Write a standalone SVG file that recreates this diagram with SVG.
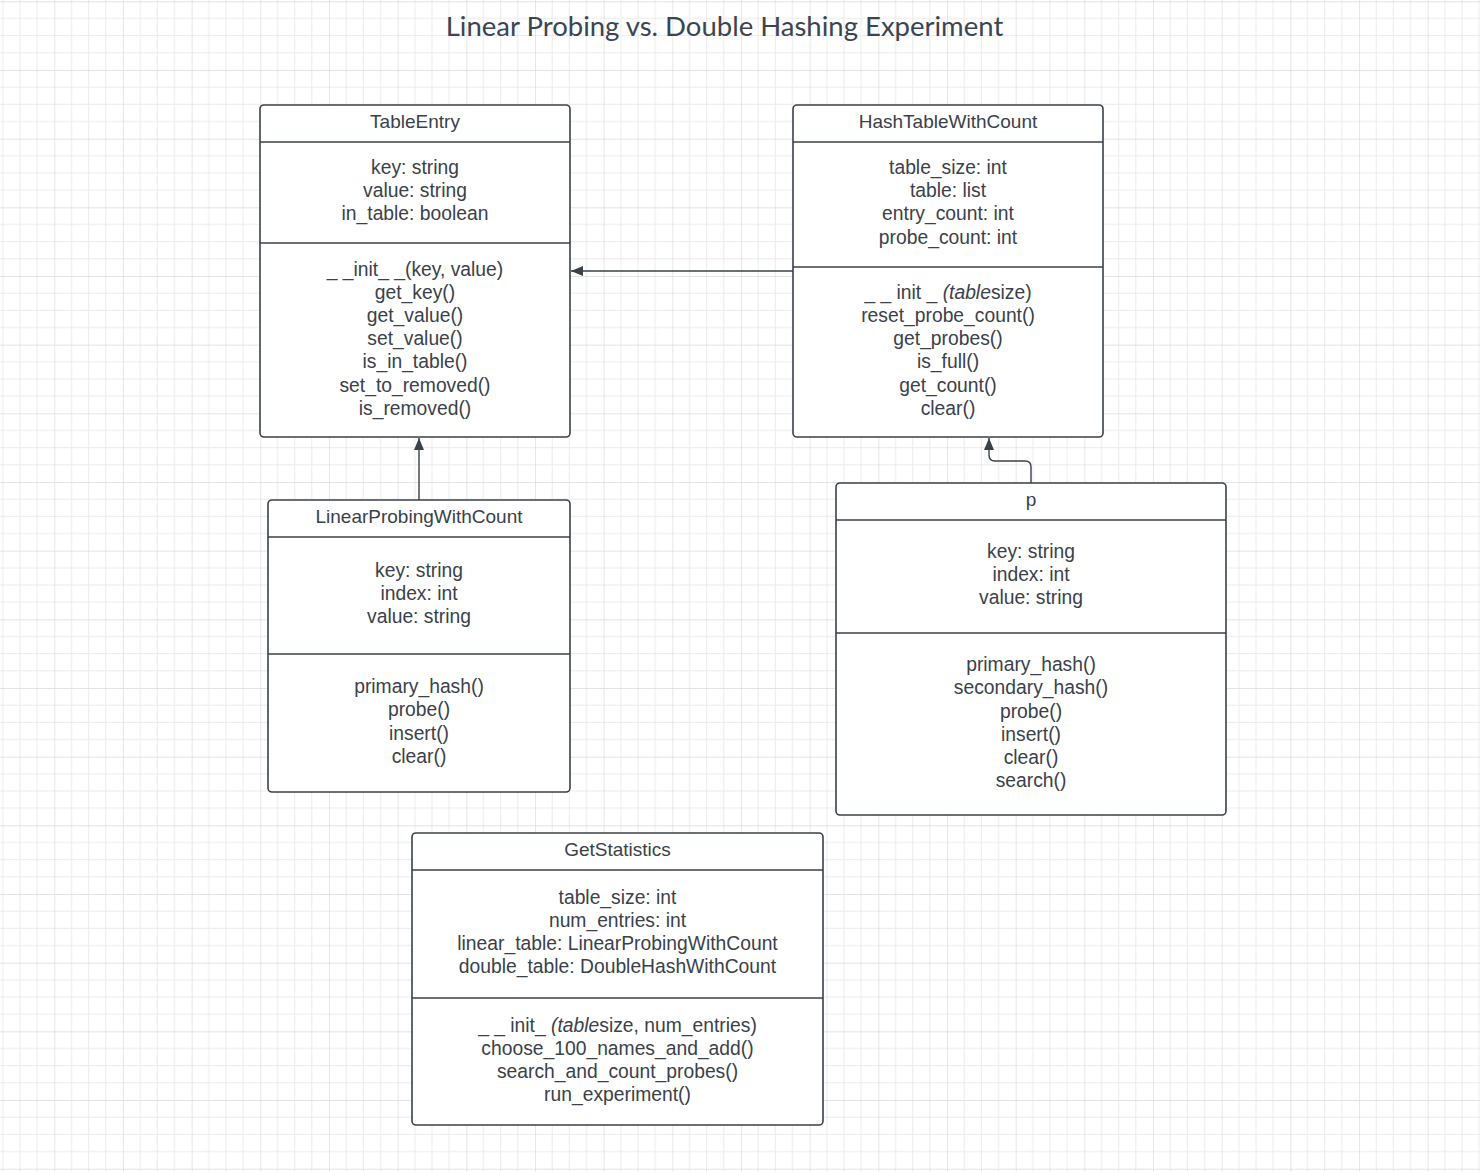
<svg xmlns="http://www.w3.org/2000/svg" width="1480" height="1172" viewBox="0 0 1480 1172">
<defs>
<pattern id="grid" patternUnits="userSpaceOnUse" x="-14.37" y="1.3" width="68.67" height="68.67">
<path d="M17.17 0V68.67M34.33 0V68.67M51.5 0V68.67M0 17.17H68.67M0 34.33H68.67M0 51.5H68.67" stroke="#ebebeb" stroke-width="1" fill="none"/>
<path d="M0 0V68.67M0 0H68.67" stroke="#dadada" stroke-width="1.3" fill="none"/>
</pattern>
<marker id="arr" viewBox="0 0 12 10" refX="12" refY="5" markerWidth="12" markerHeight="10" markerUnits="userSpaceOnUse" orient="auto">
<path d="M0 0L12 5L0 10Z" fill="#3a414a"/>
</marker>
</defs>
<style>
.box{fill:#ffffff;stroke:#3a414a;stroke-width:1.6}
.div{stroke:#3a414a;stroke-width:1.6}
.hd{font-family:"Liberation Sans",Arial,sans-serif;font-size:19px;fill:#3a414a;text-anchor:middle}
.m{font-family:"Liberation Sans",Arial,sans-serif;font-size:19.3px;fill:#3a414a;text-anchor:middle}
.con{fill:none;stroke:#3a414a;stroke-width:1.4}
.title{font-family:Lato,"Open Sans",sans-serif;font-size:27.5px;fill:#3b4552;text-anchor:middle}
</style>
<rect width="1480" height="1172" fill="#ffffff"/>
<rect width="1480" height="1172" fill="url(#grid)"/>
<text class="title" x="724.5" y="36">Linear Probing vs. Double Hashing Experiment</text>

<g id="TableEntry">
<rect class="box" x="260" y="105" width="310" height="332" rx="4"/>
<line class="div" x1="260" y1="142" x2="570" y2="142"/>
<line class="div" x1="260" y1="243" x2="570" y2="243"/>
<text class="hd" x="415" y="128">TableEntry</text>
<text class="m" x="415" y="174">key: string</text>
<text class="m" x="415" y="197">value: string</text>
<text class="m" x="415" y="220">in_table: boolean</text>
<text class="m" x="415" y="276">_ _init_ _(key, value)</text>
<text class="m" x="415" y="299">get_key()</text>
<text class="m" x="415" y="322">get_value()</text>
<text class="m" x="415" y="345">set_value()</text>
<text class="m" x="415" y="368">is_in_table()</text>
<text class="m" x="415" y="392">set_to_removed()</text>
<text class="m" x="415" y="415">is_removed()</text>
</g>

<g id="HashTableWithCount">
<rect class="box" x="793" y="105" width="310" height="332" rx="4"/>
<line class="div" x1="793" y1="142" x2="1103" y2="142"/>
<line class="div" x1="793" y1="267" x2="1103" y2="267"/>
<text class="hd" x="948" y="128">HashTableWithCount</text>
<text class="m" x="948" y="174">table_size: int</text>
<text class="m" x="948" y="197">table: list</text>
<text class="m" x="948" y="220">entry_count: int</text>
<text class="m" x="948" y="244">probe_count: int</text>
<text class="m" x="948" y="299">_ _ init _ <tspan font-style="italic">(table</tspan>size)</text>
<text class="m" x="948" y="322">reset_probe_count()</text>
<text class="m" x="948" y="345">get_probes()</text>
<text class="m" x="948" y="368">is_full()</text>
<text class="m" x="948" y="392">get_count()</text>
<text class="m" x="948" y="415">clear()</text>
</g>

<g id="LinearProbingWithCount">
<rect class="box" x="268" y="500" width="302" height="292" rx="4"/>
<line class="div" x1="268" y1="537" x2="570" y2="537"/>
<line class="div" x1="268" y1="654" x2="570" y2="654"/>
<text class="hd" x="419" y="523">LinearProbingWithCount</text>
<text class="m" x="419" y="577">key: string</text>
<text class="m" x="419" y="600">index: int</text>
<text class="m" x="419" y="623">value: string</text>
<text class="m" x="419" y="693">primary_hash()</text>
<text class="m" x="419" y="716">probe()</text>
<text class="m" x="419" y="740">insert()</text>
<text class="m" x="419" y="763">clear()</text>
</g>

<g id="p">
<rect class="box" x="836" y="483" width="390" height="332" rx="4"/>
<line class="div" x1="836" y1="520" x2="1226" y2="520"/>
<line class="div" x1="836" y1="633" x2="1226" y2="633"/>
<text class="hd" x="1031" y="506">p</text>
<text class="m" x="1031" y="558">key: string</text>
<text class="m" x="1031" y="581">index: int</text>
<text class="m" x="1031" y="604">value: string</text>
<text class="m" x="1031" y="671">primary_hash()</text>
<text class="m" x="1031" y="694">secondary_hash()</text>
<text class="m" x="1031" y="718">probe()</text>
<text class="m" x="1031" y="741">insert()</text>
<text class="m" x="1031" y="764">clear()</text>
<text class="m" x="1031" y="787">search()</text>
</g>

<g id="GetStatistics">
<rect class="box" x="412" y="833" width="411" height="292" rx="4"/>
<line class="div" x1="412" y1="870" x2="823" y2="870"/>
<line class="div" x1="412" y1="998" x2="823" y2="998"/>
<text class="hd" x="617.5" y="856">GetStatistics</text>
<text class="m" x="617.5" y="904">table_size: int</text>
<text class="m" x="617.5" y="927">num_entries: int</text>
<text class="m" x="617.5" y="950">linear_table: LinearProbingWithCount</text>
<text class="m" x="617.5" y="973">double_table: DoubleHashWithCount</text>
<text class="m" x="617.5" y="1032">_ _ init_ <tspan font-style="italic">(table</tspan>size, num_entries)</text>
<text class="m" x="617.5" y="1055">choose_100_names_and_add()</text>
<text class="m" x="617.5" y="1078">search_and_count_probes()</text>
<text class="m" x="617.5" y="1101">run_experiment()</text>
</g>

<g id="connectors">
<path class="con" d="M793 271H571" marker-end="url(#arr)"/>
<path class="con" d="M419 500V438" marker-end="url(#arr)"/>
<path class="con" d="M1031 483V467Q1031 461 1025 461H995Q989 461 989 455V438" marker-end="url(#arr)"/>
</g>
</svg>
